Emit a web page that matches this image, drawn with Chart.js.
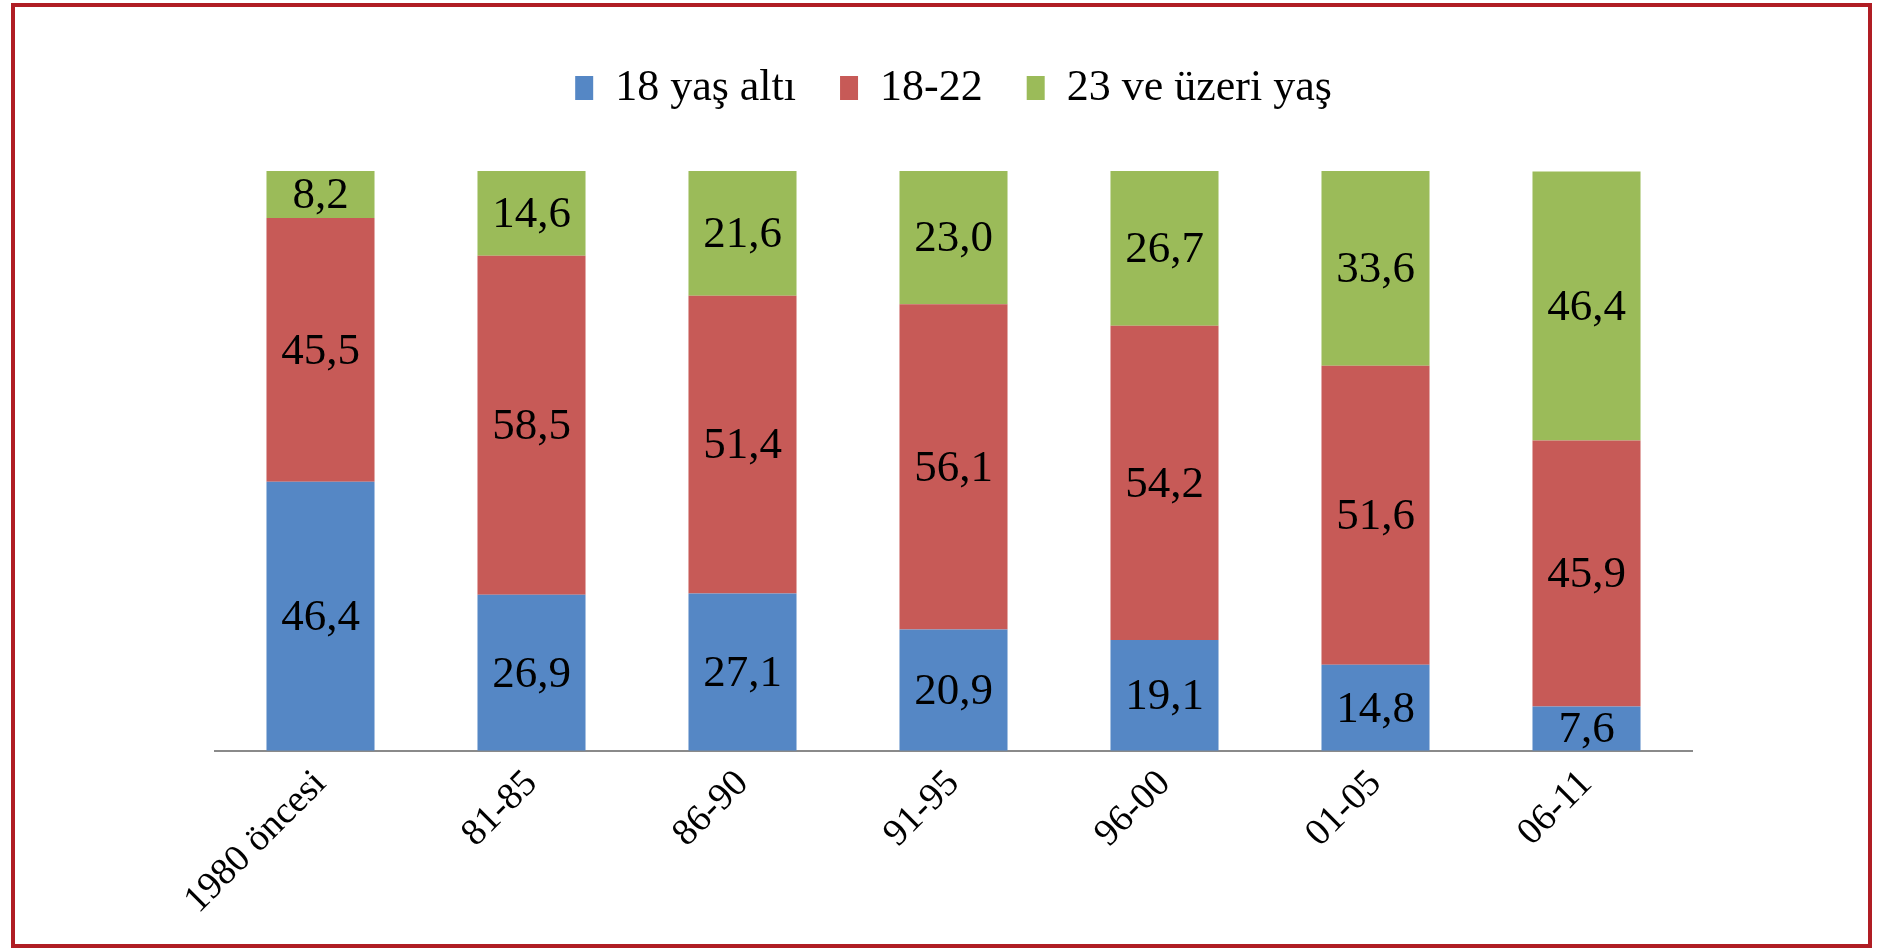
<!DOCTYPE html>
<html>
<head>
<meta charset="utf-8">
<script src="https://cdn.jsdelivr.net/npm/chart.js@4/dist/chart.umd.min.js"></script>
<style>
    html, body { margin: 0; padding: 0; background: #fff; overflow: hidden; }
    #frame {
        position: absolute; left: 11px; top: 3px; width: 1853px; height: 937px;
        border: 4px solid #b01d24;
    }
    #wrap { position: absolute; left: 0; top: 0; width: 1878px; height: 949px; }
</style>
</head>
<body>
<div id="frame"></div>
<div id="wrap"><canvas id="chart" width="1878" height="949"></canvas></div>
<script>
// kategoriler
const categories = ['1980 öncesi', '81-85', '86-90', '91-95', '96-00', '01-05', '06-11'];

// seriler (%)
const under18 = [46.4, 26.9, 27.1, 20.9, 19.1, 14.8, 7.6];
const age18to22 = [45.5, 58.5, 51.4, 56.1, 54.2, 51.6, 45.9];
const age23plus = [8.2, 14.6, 21.6, 23.0, 26.7, 33.6, 46.4];

const seriesNames = ['18 yaş altı', '18-22', '23 ve üzeri yaş'];
const seriesColors = ['#5587c5', '#c75a57', '#9bbb59'];

const serif = "'Liberation Serif', 'Times New Roman', serif";

// legend ile grafik arasına boşluk
const legendGap = {
    id: 'legendGap',
    beforeInit(chart) {
        const fit = chart.legend.fit;
        chart.legend.fit = function () {
            fit.call(this);
            this.height += 51;
        };
    }
};

// segment ortasına değer yazma
const valueLabels = {
    id: 'valueLabels',
    afterDatasetsDraw(chart) {
        const ctx = chart.ctx;
        ctx.save();
        ctx.font = '45px ' + serif;
        ctx.fillStyle = '#000';
        ctx.textAlign = 'center';
        ctx.textBaseline = 'middle';
        chart.data.datasets.forEach((ds, i) => {
            const meta = chart.getDatasetMeta(i);
            meta.data.forEach((bar, j) => {
                const v = ds.data[j];
                const y = (bar.y + bar.base) / 2;
                ctx.fillText(v.toFixed(1).replace('.', ','), bar.x, y + 2);
            });
        });
        ctx.restore();
    }
};

const datasets = [under18, age18to22, age23plus].map((d, i) => ({
    label: seriesNames[i],
    data: d,
    backgroundColor: seriesColors[i],
    borderWidth: 0,
    barPercentage: 0.512,
    categoryPercentage: 1.0
}));

new Chart(document.getElementById('chart').getContext('2d'), {
    type: 'bar',
    data: { labels: categories, datasets: datasets },
    plugins: [legendGap, valueLabels],
    options: {
        responsive: false,
        animation: false,
        layout: { padding: { left: 215, right: 186, top: 22, bottom: 23 } },
        plugins: {
            tooltip: { enabled: false },
            legend: {
                position: 'top',
                labels: {
                    boxWidth: 18,
                    boxHeight: 24,
                    padding: 44,
                    color: '#000',
                    font: { family: serif, size: 44 }
                }
            }
        },
        scales: {
            x: {
                stacked: true,
                grid: { display: false },
                border: { display: true, color: '#8a8a8a', width: 2 },
                ticks: {
                    minRotation: 45,
                    maxRotation: 45,
                    color: '#000',
                    padding: 3,
                    font: { family: serif, size: 38 }
                }
            },
            y: {
                stacked: true,
                display: false,
                min: 0,
                max: 100
            }
        }
    }
});
</script>
</body>
</html>
